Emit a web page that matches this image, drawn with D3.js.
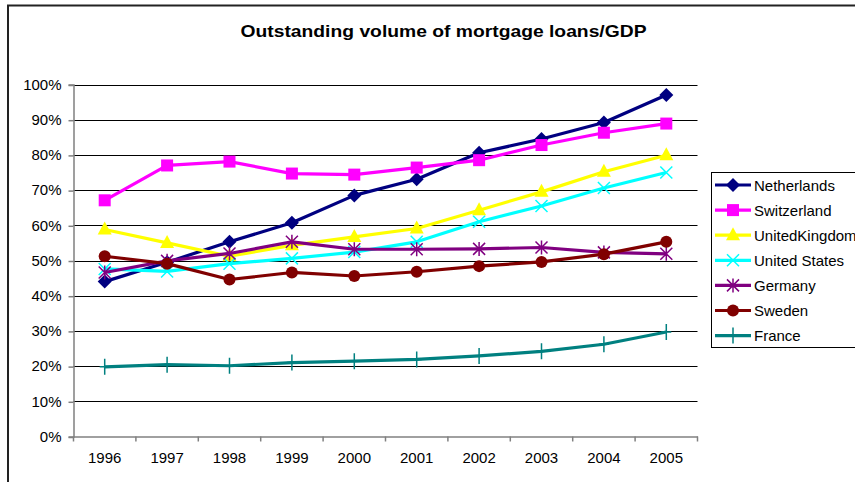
<!DOCTYPE html>
<html>
<head>
<meta charset="utf-8">
<script src="https://cdn.jsdelivr.net/npm/d3@7"></script>
<style>
  body { margin: 0; background: #fff; }
  text { font-family: Arial, "Liberation Sans", sans-serif; }
</style>
</head>
<body>
<div id="chart"></div>
<script>
var years = ["1996","1997","1998","1999","2000","2001","2002","2003","2004","2005"];
var yTicks = [0, 10, 20, 30, 40, 50, 60, 70, 80, 90, 100];

// values in % of GDP
var netherlands = [44.0, 49.5, 55.3, 60.7, 68.5, 73.1, 80.6, 84.5, 89.2, 97.0];
var switzerland = [67.1, 77.0, 78.1, 74.7, 74.4, 76.4, 78.5, 82.8, 86.3, 88.9];
var unitedKingdom = [58.8, 55.0, 51.2, 54.3, 56.7, 59.1, 64.3, 69.5, 75.2, 79.9];
var unitedStates = [47.6, 46.9, 49.1, 50.6, 52.4, 55.3, 61.0, 65.5, 70.6, 75.0];
var germany = [46.6, 49.9, 52.0, 55.3, 53.2, 53.2, 53.3, 53.7, 52.3, 51.9];
var sweden = [51.2, 49.1, 44.6, 46.6, 45.6, 46.8, 48.4, 49.6, 51.8, 55.3];
var france = [19.8, 20.4, 20.1, 21.0, 21.4, 21.9, 22.9, 24.2, 26.2, 29.7];

var series = [
  {name: "Netherlands", values: netherlands, color: "#000080", marker: "diamond"},
  {name: "Switzerland", values: switzerland, color: "#ff00ff", marker: "square"},
  {name: "UnitedKingdom", values: unitedKingdom, color: "#ffff00", marker: "triangle"},
  {name: "United States", values: unitedStates, color: "#00ffff", marker: "x"},
  {name: "Germany", values: germany, color: "#800080", marker: "star"},
  {name: "Sweden", values: sweden, color: "#800000", marker: "circle"},
  {name: "France", values: france, color: "#008080", marker: "plus"}
];

var W = 855, H = 482;
var plot = {left: 73.5, right: 697.5, top: 84.5, bottom: 436.5};

var svg = d3.select("#chart").append("svg")
    .attr("width", W)
    .attr("height", H);

// outer chart frame
svg.append("rect")
    .attr("x", 8).attr("y", 5.5)
    .attr("width", W + 20).attr("height", H + 20)
    .attr("fill", "#fff")
    .attr("stroke", "#222")
    .attr("stroke-width", 2);

svg.append("text")
    .attr("x", 443.5).attr("y", 36.5)
    .attr("text-anchor", "middle")
    .attr("font-size", 17)
    .attr("font-weight", "bold")
    .attr("textLength", 406)
    .attr("lengthAdjust", "spacingAndGlyphs")
    .text("Outstanding volume of mortgage loans/GDP");

var x = d3.scaleBand()
    .domain(years)
    .range([plot.left, plot.right]);

var y = d3.scaleLinear()
    .domain([0, 100])
    .range([plot.bottom, plot.top]);

// gridlines
svg.append("g")
    .selectAll("line")
    .data(yTicks.filter(d => d > 0))
    .enter().append("line")
    .attr("x1", plot.left).attr("x2", plot.right)
    .attr("y1", d => Math.round(y(d)) + 0.5)
    .attr("y2", d => Math.round(y(d)) + 0.5)
    .attr("stroke", "#000")
    .attr("stroke-width", 1);

// y axis
var yAxis = svg.append("g")
    .attr("transform", "translate(" + plot.left + ",0)")
    .call(d3.axisLeft(y).tickValues(yTicks).tickFormat(d => d + "%").tickSize(5).tickPadding(7));
yAxis.select(".domain").attr("stroke", "#808080").attr("stroke-width", 1.5);
yAxis.selectAll(".tick line").attr("stroke", "#808080").attr("stroke-width", 1.5)
    .attr("transform", "translate(0,0.5)");
yAxis.selectAll(".tick text").attr("font-size", 15).attr("fill", "#000")
    .attr("font-family", "Arial, 'Liberation Sans', sans-serif");

// x axis, ticks between categories
var xAxis = svg.append("g")
    .attr("transform", "translate(0," + plot.bottom + ")")
    .call(d3.axisBottom(x).tickSize(0).tickPadding(16));
xAxis.select(".domain").attr("stroke", "#808080").attr("stroke-width", 1.5);
xAxis.selectAll(".tick text").attr("font-size", 15).attr("fill", "#000")
    .attr("font-family", "Arial, 'Liberation Sans', sans-serif");
xAxis.selectAll(".sep")
    .data(years.concat(["end"]))
    .enter().append("line")
    .attr("class", "sep")
    .attr("x1", (d, i) => plot.left + i * x.step())
    .attr("x2", (d, i) => plot.left + i * x.step())
    .attr("y1", 0).attr("y2", 5)
    .attr("stroke", "#808080")
    .attr("stroke-width", 1.5);

function drawMarker(g, type, color) {
  if (type === "diamond") {
    g.append("path").attr("d", "M0,-7L7,0L0,7L-7,0Z").attr("fill", color);
  } else if (type === "square") {
    g.append("rect").attr("x", -6).attr("y", -6).attr("width", 12).attr("height", 12).attr("fill", color);
  } else if (type === "triangle") {
    g.append("path").attr("d", "M0,-8L7,5L-7,5Z").attr("fill", color);
  } else if (type === "circle") {
    g.append("circle").attr("r", 6).attr("fill", color);
  } else if (type === "x") {
    g.append("path").attr("d", "M-6,-6L6,6M-6,6L6,-6").attr("stroke", color).attr("stroke-width", 1.5);
  } else if (type === "star") {
    g.append("path").attr("d", "M-6,-6L6,6M-6,6L6,-6M0,-7L0,7").attr("stroke", color).attr("stroke-width", 1.5);
  } else if (type === "plus") {
    g.append("path").attr("d", "M0,-8L0,8M-5,0L5,0").attr("stroke", color).attr("stroke-width", 1.5);
  }
}

var line = d3.line()
    .x((d, i) => x(years[i]) + x.bandwidth() / 2)
    .y(d => y(d));

series.forEach(function(s) {
  var g = svg.append("g");
  g.append("path")
      .datum(s.values)
      .attr("d", line)
      .attr("fill", "none")
      .attr("stroke", s.color)
      .attr("stroke-width", 3.2)
      .attr("stroke-linejoin", "round");
  s.values.forEach(function(v, i) {
    var m = g.append("g")
        .attr("transform", "translate(" + (x(years[i]) + x.bandwidth() / 2) + "," + y(v) + ")");
    drawMarker(m, s.marker, s.color);
  });
});

// legend
var legend = svg.append("g");
legend.append("rect")
    .attr("x", 711.5).attr("y", 172.5)
    .attr("width", 160).attr("height", 175)
    .attr("fill", "#fff")
    .attr("stroke", "#000")
    .attr("stroke-width", 1);

var items = legend.selectAll(".item")
    .data(series)
    .enter().append("g")
    .attr("class", "item")
    .attr("transform", (d, i) => "translate(0," + (185 + i * 25.1) + ")");

items.append("line")
    .attr("x1", 715).attr("x2", 751)
    .attr("stroke", d => d.color)
    .attr("stroke-width", 3.2);
items.each(function(d) {
  var m = d3.select(this).append("g").attr("transform", "translate(733,0)");
  drawMarker(m, d.marker, d.color);
});
items.append("text")
    .attr("x", 754).attr("y", 5.5)
    .attr("font-size", 15)
    .text(d => d.name);
</script>
</body>
</html>
